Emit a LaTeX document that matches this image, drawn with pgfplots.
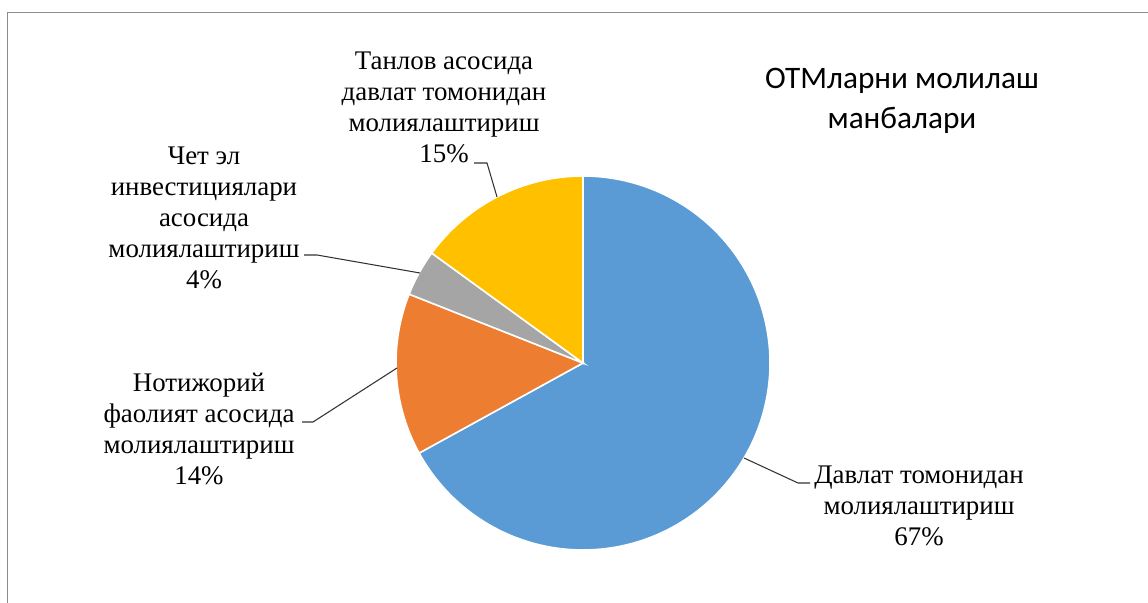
\documentclass[border=0pt]{standalone}
\usepackage{fontspec}
\setmainfont{Liberation Serif}
\newfontfamily\titlefont{Carlito}
\usepackage{pgfplots}
\pgfplotsset{compat=1.18}
\definecolor{cblue}{HTML}{5B9BD5}
\definecolor{corange}{HTML}{ED7D31}
\definecolor{cgray}{HTML}{A5A5A5}
\definecolor{cyellow}{HTML}{FFC000}
\definecolor{frame}{HTML}{8C8C8C}
% shares (percent), clockwise from 12 o'clock
\def\pA{67}\def\pB{14}\def\pC{4}\def\pD{15}
\pgfmathsetmacro\aA{90}
\pgfmathsetmacro\aB{\aA-3.6*\pA}
\pgfmathsetmacro\aC{\aB-3.6*\pB}
\pgfmathsetmacro\aD{\aC-3.6*\pC}
\pgfmathsetmacro\aE{\aD-3.6*\pD}
\def\cx{583}\def\cy{240}\def\r{187}
\begin{document}
\begin{tikzpicture}
\useasboundingbox (0,0) rectangle (114.8mm,60.3mm);
\draw[frame, line width=0.45pt] (0.75mm,0) -- (0.75mm,59.05mm) -- (114.8mm,59.05mm);
\begin{axis}[at={(0,0)}, anchor=south west, x=0.1mm, y=0.1mm,
  xmin=0, xmax=1148, ymin=0, ymax=603, hide axis, clip=false]
\addplot[draw=white, line width=0.45pt, fill=cblue, domain=\aB:\aA, samples=150, variable=\t]
  ({\cx+\r*cos(\t)},{\cy+\r*sin(\t)}) -- (axis cs:\cx,\cy) -- cycle;
\addplot[draw=white, line width=0.45pt, fill=corange, domain=\aC:\aB, samples=40, variable=\t]
  ({\cx+\r*cos(\t)},{\cy+\r*sin(\t)}) -- (axis cs:\cx,\cy) -- cycle;
\addplot[draw=white, line width=0.45pt, fill=cgray, domain=\aD:\aC, samples=20, variable=\t]
  ({\cx+\r*cos(\t)},{\cy+\r*sin(\t)}) -- (axis cs:\cx,\cy) -- cycle;
\addplot[draw=white, line width=0.45pt, fill=cyellow, domain=\aE:\aD, samples=40, variable=\t]
  ({\cx+\r*cos(\t)},{\cy+\r*sin(\t)}) -- (axis cs:\cx,\cy) -- cycle;
% leader lines
\addplot[black!80, line width=0.3pt] coordinates {(474,440) (487,440) (497,406)};
\addplot[black!80, line width=0.3pt] coordinates {(304,348) (317,348) (420,330)};
\addplot[black!80, line width=0.3pt] coordinates {(302,181) (313,181) (397,235)};
\addplot[black!80, line width=0.3pt] coordinates {(744,145) (798,120) (810,120)};
% labels
\tikzset{lbl/.style={align=center, inner sep=0pt, font={\fontsize{7.65}{8.8}\selectfont}}}
\node[lbl] at (axis cs:444,496) {Танлов асосида\\давлат томонидан\\молиялаштириш\\15\%};
\node[lbl] at (axis cs:204,385) {Чет эл\\инвестициялари\\асосида\\молиялаштириш\\4\%};
\node[lbl] at (axis cs:199,174) {Нотижорий\\фаолият асосида\\молиялаштириш\\14\%};
\node[lbl] at (axis cs:919,97) {Давлат томонидан\\молиялаштириш\\67\%};
\node[align=center, inner sep=0pt, font={\titlefont\fontsize{8.9}{11.2}\selectfont}] at (axis cs:902,502) {ОТМларни молилаш\\манбалари};
\end{axis}
\end{tikzpicture}
\end{document}
